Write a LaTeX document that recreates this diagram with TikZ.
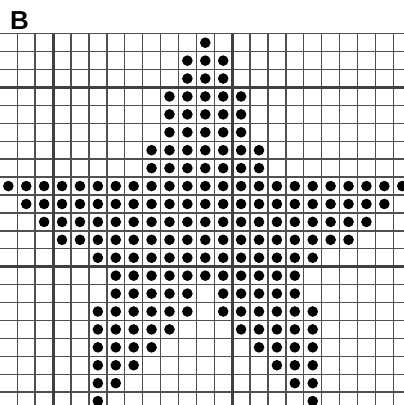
\documentclass[tikz,border=0pt]{standalone}
\usepackage{fontspec}
\setmainfont{Liberation Sans}
\definecolor{gridgray}{HTML}{505050}
\definecolor{majorgray}{HTML}{404040}
\begin{document}
\begin{tikzpicture}[x=1pt,y=-1pt,
  minorline/.style={draw=gridgray,line width=1.4pt},
  majorline/.style={draw=majorgray,line width=2.8pt},
  dot/.style={fill=black},
  panellabel/.style={anchor=base west,inner sep=0pt,font=\bfseries\fontsize{26}{26}\selectfont}]
\useasboundingbox (0,0) rectangle (404,405);
\begin{scope}
\clip (0,0) rectangle (404,405);
% minor grid
\foreach \k in {-3,...,19}{
  \draw[minorline] ({53.1+\k*17.905},33.5) -- ({53.1+\k*17.905},406);
}
\foreach \k in {-3,...,18}{
  \draw[minorline] (-2,{87.5+\k*17.92}) -- (406,{87.5+\k*17.92});
}
% major grid
\foreach \k in {0,10}{
  \draw[majorline] ({53.1+\k*17.905},33.5) -- ({53.1+\k*17.905},406);
  \draw[majorline] (-2,{87.5+\k*17.92}) -- (406,{87.5+\k*17.92});
}
% dots
\foreach \r/\a/\b in {-3/8/8,-2/7/9,-1/7/9,0/6/10,1/6/10,2/6/10,3/5/11,4/5/11,
  5/-3/19,6/-2/18,7/-1/17,8/0/16,9/2/14,10/3/13,
  11/3/7,11/9/13,12/2/7,12/9/14,13/2/6,13/10/14,14/2/5,14/11/14,
  15/2/4,15/12/14,16/2/3,16/13/14,17/2/2,17/14/14}{
  \foreach \c in {\a,...,\b}{
    \fill[dot] ({53.1+(\c+0.5)*17.905},{87.5+(\r+0.5)*17.92}) circle (5.3);
  }
}
\end{scope}
\node[panellabel] (lbl) at (10,29.3) {B};
\end{tikzpicture}
\end{document}
